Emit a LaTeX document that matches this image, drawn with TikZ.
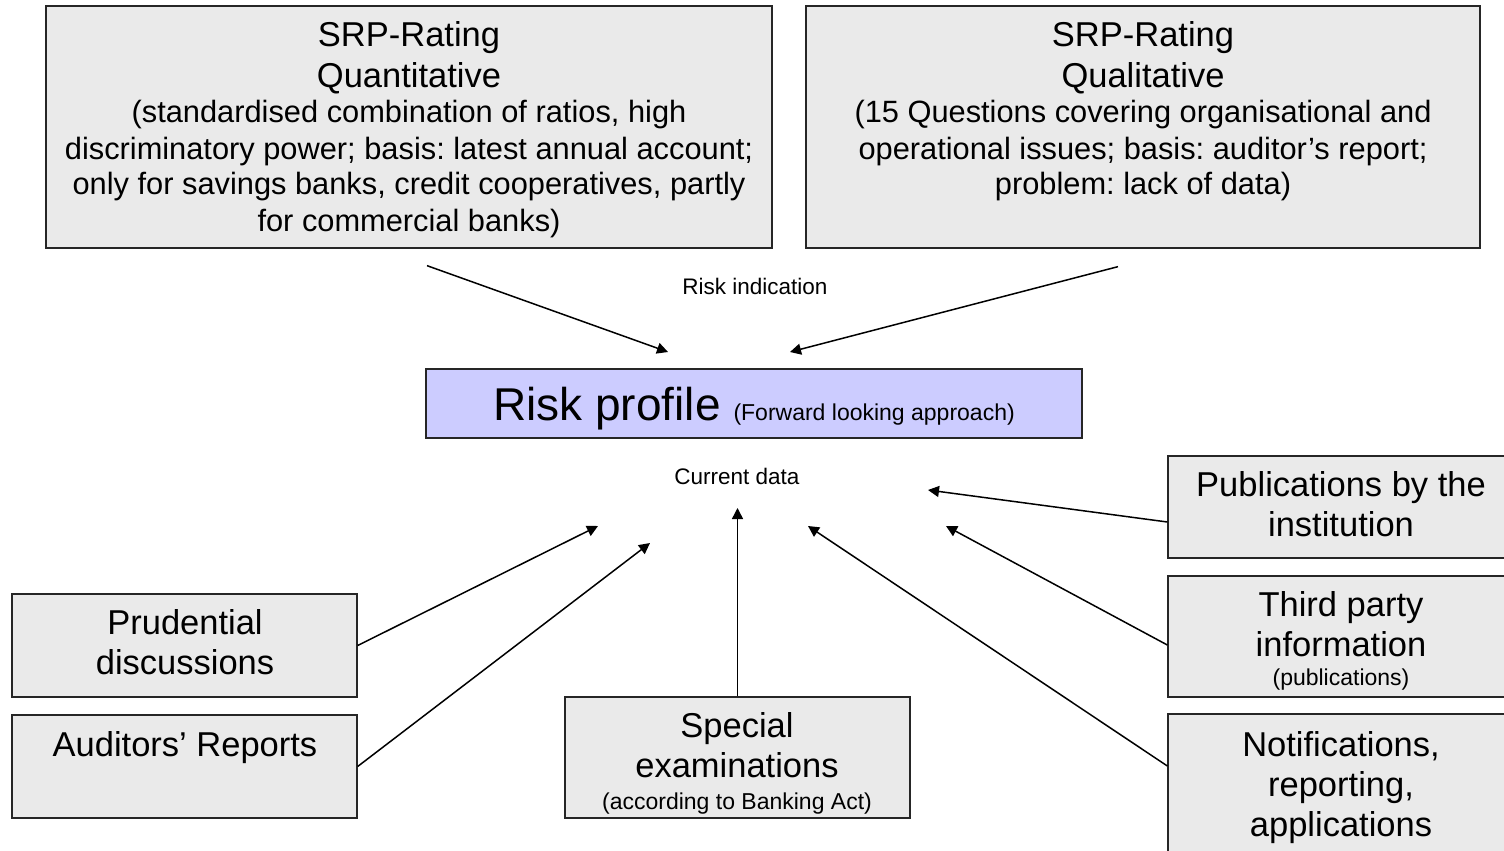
\documentclass[tikz,border=0pt]{standalone}
\usepackage{fontspec}
\setmainfont{Liberation Sans}
\usetikzlibrary{arrows.meta}
\definecolor{boxgray}{HTML}{EAEAEA}
\definecolor{riskblue}{HTML}{CCCCFF}
% rigid word spacing taken from the size in force
\newcommand{\natspace}{\spaceskip=\fontdimen2\font\relax\xspaceskip=\fontdimen2\font\relax}
\newcommand{\bigtxt}{\fontsize{34.5}{40}\selectfont\natspace}
\newcommand{\midtxt}{\fontsize{30.8}{36}\selectfont\natspace}
\newcommand{\smtxt}[1]{\fontsize{23}{#1}\selectfont\natspace}
\begin{document}
\begin{tikzpicture}[x=1pt,y=-1pt,
  box/.style={draw=black!85, fill=boxgray, line width=1.3pt, inner sep=0pt},
  risk/.style={box, fill=riskblue},
  txt/.style={inner sep=0pt, text width=720pt, align=center, anchor=base},
  conn/.style={line width=1.5pt, -{Triangle[length=11pt,width=11pt]}},
  lbl/.style={inner sep=0pt, anchor=base, font=\fontsize{22.5}{26}\selectfont}]
\useasboundingbox (0,0) rectangle (1504,851);

% rating boxes at the top
\node[box, minimum width=726pt, minimum height=242pt] (qnt) at (409,127) {};
\node[txt] (qnt-t) at (409,47) {\bigtxt SRP-Rating\\Quantitative\par
  \midtxt (standardised combination of ratios, high\\discriminatory power; basis: latest annual account;\\only for savings banks, credit cooperatives, partly\\for commercial banks)\par};
\node[box, minimum width=674pt, minimum height=242pt] (qlt) at (1143,127) {};
\node[txt] (qlt-t) at (1143,47) {\bigtxt SRP-Rating\\Qualitative\par
  \midtxt (15 Questions covering organisational and\\operational issues; basis: auditor’s report;\\problem: lack of data)\par};

% central risk profile
\node[risk, minimum width=656pt, minimum height=69pt, text height=36pt, text depth=3pt] (rp) at (754,403.5)
  {\fontsize{46}{50}\selectfont Risk profile {\fontsize{23}{26}\selectfont (Forward looking approach)}};

\node[lbl] (ri) at (755,294) {Risk indication};
\node[lbl] (cd) at (737,484) {Current data};

% sources on the left and bottom
\node[box, minimum width=345pt, minimum height=103pt] (prud) at (184.5,645.5) {};
\node[txt] (prud-t) at (185,634) {\bigtxt Prudential\\discussions\par};
\node[box, minimum width=345pt, minimum height=103pt] (aud) at (184.5,766.5) {};
\node[txt] (aud-t) at (185,756) {\bigtxt Auditors’ Reports\par};
\node[box, minimum width=345pt, minimum height=121pt] (spec) at (737.5,757.5) {};
\node[txt] (spec-t) at (737,737) {\bigtxt Special\\examinations\par\smtxt{32}(according to Banking Act)\par};

% sources on the right
\node[box, minimum width=346pt, minimum height=102pt] (pub) at (1341,507) {};
\node[txt] (pub-t) at (1341,496) {\bigtxt Publications by the\\institution\par};
\node[box, minimum width=346pt, minimum height=121pt] (third) at (1341,636.5) {};
\node[txt] (third-t) at (1341,616) {\bigtxt Third party\\information\par\smtxt{29}(publications)\par};
\node[box, minimum width=346pt, minimum height=146pt] (notif) at (1341,787) {};
\node[txt] (notif-t) at (1341,756) {\bigtxt Notifications,\\reporting,\\applications\par};

% connector end points
\coordinate (qnt-out) at ([xshift=18pt,yshift=-17pt]qnt.south);
\coordinate (qlt-out) at ([xshift=-25pt,yshift=-18pt]qlt.south);
\coordinate (in-a) at (668,352);
\coordinate (in-b) at (790,352);
\coordinate (in-c) at (598,526);
\coordinate (in-d) at (650,543);
\coordinate (in-e) at (737.5,508);
\coordinate (in-f) at (808,526);
\coordinate (in-g) at (946,526);
\coordinate (in-h) at (928,490);

\draw[conn] (qnt-out) -- (in-a);
\draw[conn] (qlt-out) -- (in-b);
\draw[conn] (prud.east) -- (in-c);
\draw[conn] (aud.east) -- (in-d);
\draw[conn] (spec.north) -- (in-e);
\draw[conn] ([yshift=21pt]notif.west) -- (in-f);
\draw[conn] ([yshift=-8.5pt]third.west) -- (in-g);
\draw[conn] ([yshift=-15pt]pub.west) -- (in-h);
\end{tikzpicture}
\end{document}
